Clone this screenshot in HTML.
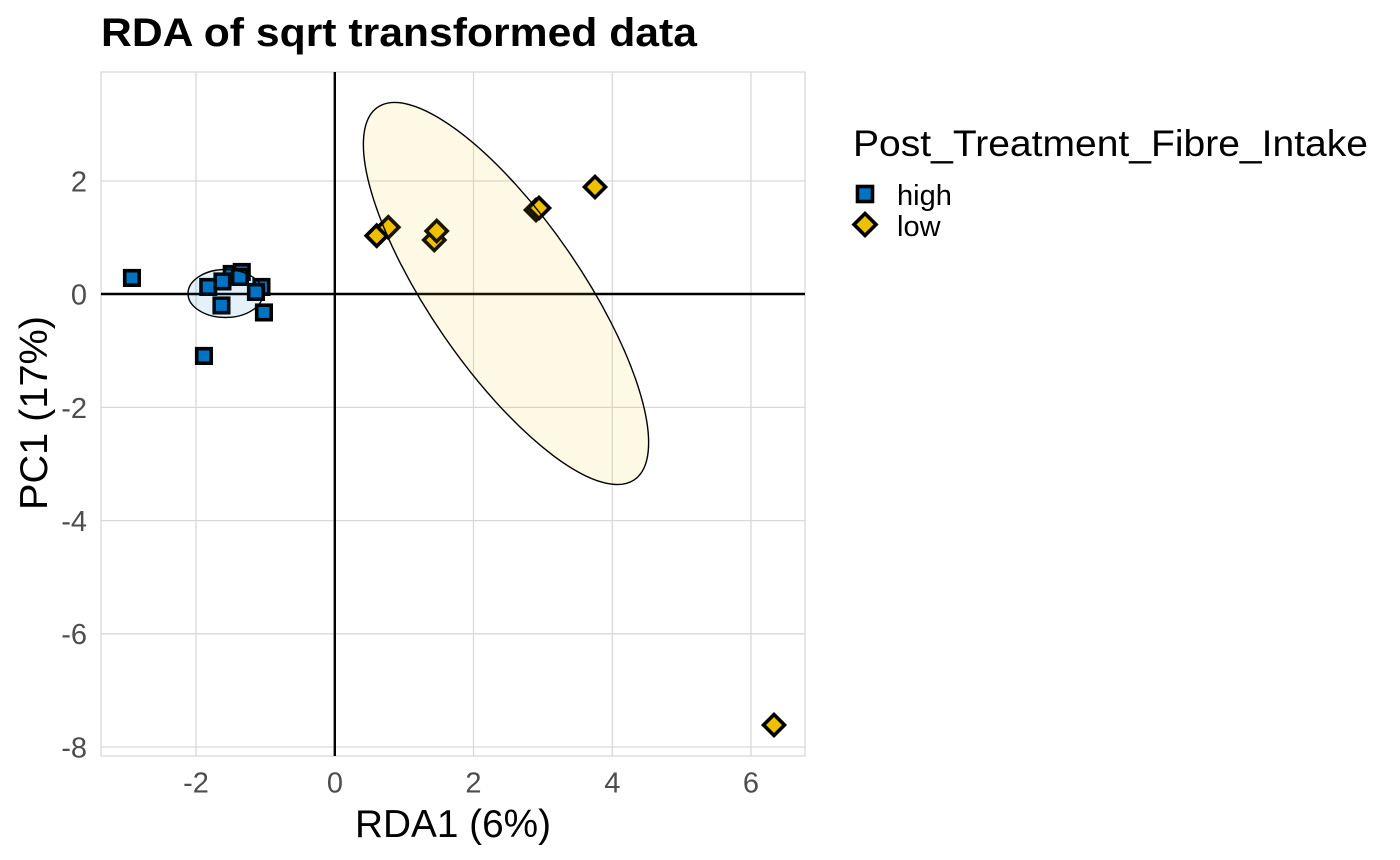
<!DOCTYPE html>
<html>
<head>
<meta charset="utf-8">
<style>
  html, body { margin: 0; padding: 0; background: #ffffff; }
  svg { display: block; }
  text { font-family: "Liberation Sans", Arial, sans-serif; }
</style>
</head>
<body>
<svg width="1400" height="860" viewBox="0 0 1400 860" xmlns="http://www.w3.org/2000/svg">
  <rect x="0" y="0" width="1400" height="860" fill="#ffffff"/>

  <!-- Title -->
  <text x="101" y="46" font-size="40" font-weight="bold" fill="#000" textLength="596" lengthAdjust="spacingAndGlyphs">RDA of sqrt transformed data</text>

  <!-- Grid lines -->
  <g stroke="#D9D9D9" stroke-width="1.3" fill="none">
    <line x1="196" y1="72" x2="196" y2="756"/>
    <line x1="335" y1="72" x2="335" y2="756"/>
    <line x1="473.5" y1="72" x2="473.5" y2="756"/>
    <line x1="612.3" y1="72" x2="612.3" y2="756"/>
    <line x1="751" y1="72" x2="751" y2="756"/>
    <line x1="101" y1="181" x2="805" y2="181"/>
    <line x1="101" y1="294.2" x2="805" y2="294.2"/>
    <line x1="101" y1="407.4" x2="805" y2="407.4"/>
    <line x1="101" y1="520.6" x2="805" y2="520.6"/>
    <line x1="101" y1="633.8" x2="805" y2="633.8"/>
    <line x1="101" y1="747" x2="805" y2="747"/>
    <rect x="101" y="72" width="704" height="684"/>
  </g>

  <!-- Zero lines -->
  <line x1="334.8" y1="72" x2="334.8" y2="756" stroke="#000" stroke-width="2.4"/>
  <line x1="101" y1="294" x2="805" y2="294" stroke="#000" stroke-width="2.4"/>

  <!-- High (blue squares) -->
  <g fill="#0073C2" stroke="#000" stroke-width="3.6">
    <rect x="224.5" y="266.7" width="14.5" height="14.5"/>
    <rect x="234.5" y="264.7" width="14.5" height="14.5"/>
    <rect x="254.2" y="279.7" width="14.5" height="14.5"/>
    <rect x="124.7" y="270.7" width="14.5" height="14.5"/>
    <rect x="196.7" y="348.7" width="14.5" height="14.5"/>
    <rect x="201" y="279.7" width="14.5" height="14.5"/>
    <rect x="215.2" y="274.2" width="14.5" height="14.5"/>
    <rect x="214.2" y="298.2" width="14.5" height="14.5"/>
    <rect x="232.7" y="269.7" width="14.5" height="14.5"/>
    <rect x="248.7" y="284.7" width="14.5" height="14.5"/>
    <rect x="256.7" y="305.2" width="14.5" height="14.5"/>
  </g>

  <!-- Low (yellow diamonds) -->
  <g fill="#EFC000" stroke="#000" stroke-width="3.6" stroke-linejoin="miter">
    <path d="M376.7,225.2 L387.2,235.7 L376.7,246.2 L366.2,235.7 Z"/>
    <path d="M388.3,216.8 L398.8,227.3 L388.3,237.8 L377.8,227.3 Z"/>
    <path d="M434.3,229.5 L444.8,240 L434.3,250.5 L423.8,240 Z"/>
    <path d="M436.7,220.5 L447.2,231 L436.7,241.5 L426.2,231 Z"/>
    <path d="M536,199.5 L546.5,210 L536,220.5 L525.5,210 Z"/>
    <path d="M539,197.5 L549.5,208 L539,218.5 L528.5,208 Z"/>
    <path d="M595,176.5 L605.5,187 L595,197.5 L584.5,187 Z"/>
    <path d="M774,714.5 L784.5,725 L774,735.5 L763.5,725 Z"/>
  </g>

  <!-- Ellipses -->
  <ellipse cx="225.5" cy="293.5" rx="37.5" ry="24" fill="#0073C2" fill-opacity="0.1" stroke="#000" stroke-width="1.4"/>
  <ellipse cx="506" cy="293.5" rx="226.2" ry="75.3" transform="rotate(55.4 506 293.5)" fill="#EFC000" fill-opacity="0.1" stroke="#000" stroke-width="1.4"/>

  <!-- Y tick labels -->
  <g font-size="29" fill="#4D4D4D" text-anchor="end">
    <text x="87" y="191.4">2</text>
    <text x="87" y="304.6">0</text>
    <text x="87" y="417.8">-2</text>
    <text x="87" y="531">-4</text>
    <text x="87" y="644.2">-6</text>
    <text x="87" y="757.4">-8</text>
  </g>

  <!-- X tick labels -->
  <g font-size="29" fill="#4D4D4D" text-anchor="middle">
    <text x="196" y="792.5">-2</text>
    <text x="335" y="792.5">0</text>
    <text x="473.5" y="792.5">2</text>
    <text x="612.3" y="792.5">4</text>
    <text x="751" y="792.5">6</text>
  </g>

  <!-- Axis titles -->
  <text x="453" y="837" font-size="38.5" fill="#000" text-anchor="middle" textLength="196" lengthAdjust="spacingAndGlyphs">RDA1 (6%)</text>
  <text transform="translate(47,413) rotate(-90)" x="0" y="0" font-size="38.5" fill="#000" text-anchor="middle" textLength="194" lengthAdjust="spacingAndGlyphs">PC1 (17%)</text>

  <!-- Legend -->
  <text x="853" y="156" font-size="37" fill="#000" textLength="515" lengthAdjust="spacingAndGlyphs">Post_Treatment_Fibre_Intake</text>
  <rect x="857.5" y="186.5" width="15" height="15" fill="#0073C2" stroke="#000" stroke-width="3.6"/>
  <path d="M865,213.5 L876,224.5 L865,235.5 L854,224.5 Z" fill="#EFC000" stroke="#000" stroke-width="3.6"/>
  <text x="897" y="205" font-size="29" fill="#000">high</text>
  <text x="897" y="236" font-size="29" fill="#000">low</text>
</svg>
</body>
</html>
